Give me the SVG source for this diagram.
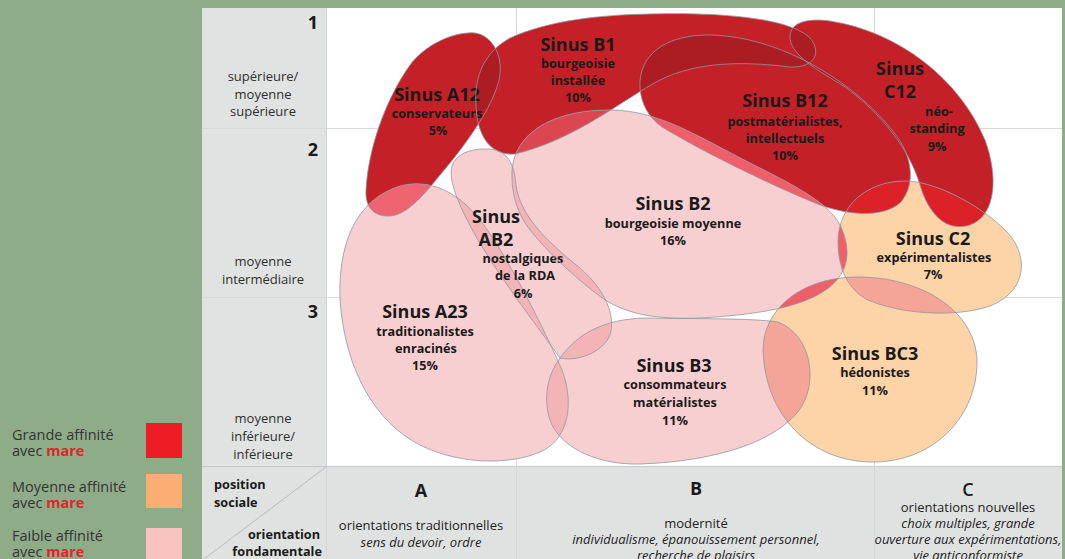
<svg xmlns="http://www.w3.org/2000/svg" width="1065" height="559" viewBox="0 0 1065 559">
<style>
.t{font-family:"Open Sans","Liberation Sans",sans-serif;fill:#1a1a1a;text-anchor:middle}
.h{font-size:18px;font-weight:700}
.s{font-size:12.7px;font-weight:700}
.lc{font-family:"Open Sans","Liberation Sans",sans-serif;font-size:13px;fill:#2e2e2e;text-anchor:middle}
.bt{font-family:"Open Sans","Liberation Sans",sans-serif;font-size:13px;fill:#222;text-anchor:middle}
.it{font-style:italic}
.lg{font-family:"Open Sans","Liberation Sans",sans-serif;font-size:14.5px;fill:#333}
.mare{font-weight:700;fill:#e8202a}
.red{fill:#c42027}
.pink{fill:#f8cfd0}
.orange{fill:#fdd3a8}
.ol{fill:none;stroke:#8f97a1;stroke-width:0.8}
.grid{stroke:#d6d9db;stroke-width:1}
.dk{fill:#ab1c23}
.pp{fill:#f2b4b7}
.rp{fill:#ef5f6a}
.so{fill:#f4a597}
.br{fill:#dc2128}
</style>
<defs>
<path id="pA12" d="M 468 33 C 490 30 505 55 499 80 C 493 105 470 140 440 175 C 420 200 405 215 390 216 C 372 217 365 205 366 190 C 368 150 385 100 410 65 C 425 45 450 34 468 33 Z"/>
<path id="pB1" d="M 476 105 C 474 75 485 52 510 38 C 550 20 600 15 650 14 C 720 12 790 18 810 38 C 822 52 815 68 790 67 C 750 62 700 60 660 80 C 625 98 575 140 515 154 C 492 156 477 138 476 105 Z"/>
<path id="pB12" d="M 640 88 C 638 55 665 36 705 35 C 780 34 860 85 898 138 C 912 158 916 185 900 203 C 882 218 848 216 815 203 C 760 180 700 150 662 127 C 648 117 641 103 640 88 Z"/>
<path id="pC12" d="M 790 36 C 791 22 808 18 830 21 C 900 32 960 80 985 140 C 998 175 997 215 970 225 C 945 233 928 212 920 185 C 910 150 880 112 845 87 C 818 70 789 55 790 36 Z"/>
<path id="pA23" d="M 340 300 C 338 245 355 200 400 186 C 430 178 458 192 480 220 C 505 252 540 320 562 370 C 575 405 568 440 540 452 C 510 465 460 465 420 445 C 375 422 345 370 340 300 Z"/>
<path id="pAB2" d="M 484 149 C 505 148 514 160 516 185 C 520 215 545 240 580 268 C 605 290 616 315 610 335 C 603 352 578 362 560 358 C 540 330 505 285 478 240 C 458 205 448 180 452 166 C 456 154 470 149 484 149 Z"/>
<path id="pB2" d="M 512 178 C 510 135 550 110 610 110 C 660 110 700 138 760 168 C 800 188 830 205 840 225 C 852 250 848 270 833 284 C 812 304 770 314 700 318 C 650 320 625 312 605 300 C 580 282 550 255 530 230 C 518 215 512 195 512 178 Z"/>
<path id="pB3" d="M 560 358 C 578 333 605 319 645 318 C 700 319 750 318 778 322 C 812 335 820 385 797 413 C 767 448 700 462 640 464 C 600 465 565 450 552 425 C 543 405 545 378 560 358 Z"/>
<path id="pC2" d="M 838 242 C 838 205 868 181 905 181 C 935 181 980 205 1005 230 C 1028 252 1030 290 990 306 C 955 318 900 314 868 300 C 848 290 838 268 838 242 Z"/>
<path id="pBC3" d="M 763 350 C 763 310 800 278 855 277 C 920 276 975 310 977 360 C 978 415 935 462 873 462 C 810 462 765 415 763 350 Z"/>
<clipPath id="cA12"><use href="#pA12"/></clipPath>
<clipPath id="cB1"><use href="#pB1"/></clipPath>
<clipPath id="cB12"><use href="#pB12"/></clipPath>
<clipPath id="cC12"><use href="#pC12"/></clipPath>
<clipPath id="cA23"><use href="#pA23"/></clipPath>
<clipPath id="cAB2"><use href="#pAB2"/></clipPath>
<clipPath id="cB2"><use href="#pB2"/></clipPath>
<clipPath id="cB3"><use href="#pB3"/></clipPath>
<clipPath id="cC2"><use href="#pC2"/></clipPath>
<clipPath id="cBC3"><use href="#pBC3"/></clipPath>
</defs>

<rect x="0" y="0" width="1065" height="559" fill="#8fac89"/>
<g id="grid">
<rect x="202" y="8" width="860" height="551" fill="#ffffff"/>
<rect x="202" y="8" width="124" height="458" fill="#e1e3e2"/>
<rect x="202" y="466" width="860" height="93" fill="#e0e2e1"/>
<line class="grid" x1="202" y1="128.5" x2="1062" y2="128.5"/>
<line class="grid" x1="202" y1="297.5" x2="1062" y2="297.5"/>
<line class="grid" x1="516.5" y1="8" x2="516.5" y2="559"/>
<line class="grid" x1="874.5" y1="8" x2="874.5" y2="559"/>
<line x1="326.5" y1="8" x2="326.5" y2="559" stroke="#d2d5d7"/>
<line x1="202" y1="466.5" x2="1062" y2="466.5" stroke="#c6c9cb"/>
<line x1="204" y1="559" x2="326" y2="467" stroke="#aeb3b7" stroke-width="0.8"/>
</g>

<g id="blob-fills">
<use href="#pA12" class="red"/>
<use href="#pB1" class="red"/>
<use href="#pB12" class="red"/>
<use href="#pC12" class="red"/>
<use href="#pA23" class="pink"/>
<use href="#pAB2" class="pink"/>
<use href="#pB2" class="pink"/>
<use href="#pB3" class="pink"/>
<use href="#pC2" class="orange"/>
<use href="#pBC3" class="orange"/>
</g>

<g id="overlaps">
<use href="#pB1" clip-path="url(#cA12)" class="dk"/>
<use href="#pB12" clip-path="url(#cB1)" class="dk"/>
<use href="#pC12" clip-path="url(#cB1)" class="dk"/>
<use href="#pC12" clip-path="url(#cB12)" class="dk"/>
<g clip-path="url(#cB1)"><use href="#pB12" clip-path="url(#cC12)" fill="#8c3b2c"/></g>
<use href="#pA23" clip-path="url(#cA12)" fill="#ee6470"/>
<use href="#pB2" clip-path="url(#cB1)" fill="#dc4651"/>
<use href="#pB2" clip-path="url(#cB12)" class="rp"/>
<use href="#pAB2" clip-path="url(#cA23)" class="pp"/>
<use href="#pAB2" clip-path="url(#cB2)" class="pp"/>
<use href="#pAB2" clip-path="url(#cB3)" class="pp"/>
<use href="#pA23" clip-path="url(#cB3)" class="pp"/>
<use href="#pB2" clip-path="url(#cB3)" class="pp"/>
<use href="#pB2" clip-path="url(#cC2)" class="rp"/>
<use href="#pB2" clip-path="url(#cBC3)" class="rp"/>
<use href="#pB3" clip-path="url(#cBC3)" class="so"/>
<use href="#pC2" clip-path="url(#cBC3)" class="so"/>
<use href="#pC2" clip-path="url(#cB12)" class="br"/>
<use href="#pC2" clip-path="url(#cC12)" class="br"/>
</g>

<g id="sinus-a12">
<use href="#pA12" class="ol"/>
<text class="t h" x="437" y="101">Sinus A12</text>
<text class="t s" x="437" y="118">conservateurs</text>
<text class="t s" x="438" y="135">5%</text>
</g>
<g id="sinus-b1">
<use href="#pB1" class="ol"/>
<text class="t h" x="578" y="51">Sinus B1</text>
<text class="t s" x="578" y="68">bourgeoisie</text>
<text class="t s" x="578" y="85">installée</text>
<text class="t s" x="578" y="102">10%</text>
</g>
<g id="sinus-b12">
<use href="#pB12" class="ol"/>
<text class="t h" x="785" y="107">Sinus B12</text>
<text class="t s" x="785" y="126">postmatérialistes,</text>
<text class="t s" x="785" y="143">intellectuels</text>
<text class="t s" x="785" y="160">10%</text>
</g>
<g id="sinus-c12">
<use href="#pC12" class="ol"/>
<text class="t h" x="900" y="75">Sinus</text>
<text class="t h" x="900" y="98">C12</text>
<text class="t s" x="939" y="116">néo-</text>
<text class="t s" x="937" y="133">standing</text>
<text class="t s" x="937" y="151">9%</text>
</g>
<g id="sinus-a23">
<use href="#pA23" class="ol"/>
<text class="t h" x="425" y="318">Sinus A23</text>
<text class="t s" x="425" y="336">traditionalistes</text>
<text class="t s" x="426" y="353">enracinés</text>
<text class="t s" x="425" y="370">15%</text>
</g>
<g id="sinus-ab2">
<use href="#pAB2" class="ol"/>
<text class="t h" x="496" y="223">Sinus</text>
<text class="t h" x="496" y="246">AB2</text>
<text class="t s" x="523" y="263">nostalgiques</text>
<text class="t s" x="525" y="280">de la RDA</text>
<text class="t s" x="523" y="298">6%</text>
</g>
<g id="sinus-b2">
<use href="#pB2" class="ol"/>
<text class="t h" x="673" y="210">Sinus B2</text>
<text class="t s" x="673" y="228">bourgeoisie moyenne</text>
<text class="t s" x="673" y="245">16%</text>
</g>
<g id="sinus-b3">
<use href="#pB3" class="ol"/>
<text class="t h" x="674" y="372">Sinus B3</text>
<text class="t s" x="675" y="389">consommateurs</text>
<text class="t s" x="675" y="407">matérialistes</text>
<text class="t s" x="675" y="425">11%</text>
</g>
<g id="sinus-c2">
<use href="#pC2" class="ol"/>
<text class="t h" x="933" y="245">Sinus C2</text>
<text class="t s" x="934" y="262">expérimentalistes</text>
<text class="t s" x="933" y="279">7%</text>
</g>
<g id="sinus-bc3">
<use href="#pBC3" class="ol"/>
<text class="t h" x="875" y="360">Sinus BC3</text>
<text class="t s" x="875" y="377">hédonistes</text>
<text class="t s" x="875" y="395">11%</text>
</g>

<g id="row-labels">
<text class="t h" x="318" y="29" style="text-anchor:end">1</text>
<text class="t h" x="318" y="156" style="text-anchor:end">2</text>
<text class="t h" x="318" y="318" style="text-anchor:end">3</text>
<text class="lc" x="263" y="81">supérieure/</text>
<text class="lc" x="263" y="99">moyenne</text>
<text class="lc" x="263" y="116">supérieure</text>
<text class="lc" x="263" y="266">moyenne</text>
<text class="lc" x="263" y="284">intermédiaire</text>
<text class="lc" x="263" y="423">moyenne</text>
<text class="lc" x="263" y="441">inférieure/</text>
<text class="lc" x="263" y="459">inférieure</text>
</g>

<g id="axis-corner">
<text class="t s" x="214" y="489" style="text-anchor:start">position</text>
<text class="t s" x="214" y="507" style="text-anchor:start">sociale</text>
<text class="t s" x="320" y="539" style="text-anchor:end">orientation</text>
<text class="t s" x="322" y="556" style="text-anchor:end">fondamentale</text>
</g>

<g id="col-a">
<text class="t h" x="421" y="497">A</text>
<text class="bt" x="421" y="530">orientations traditionnelles</text>
<text class="bt it" x="421" y="547">sens du devoir, ordre</text>
</g>
<g id="col-b">
<text class="t h" x="696" y="495">B</text>
<text class="bt" x="696" y="528">modernité</text>
<text class="bt it" x="696" y="544">individualisme, épanouissement personnel,</text>
<text class="bt it" x="696" y="560">recherche de plaisirs</text>
</g>
<g id="col-c">
<text class="t h" x="968" y="496" style="font-weight:600">C</text>
<text class="bt" x="968" y="512">orientations nouvelles</text>
<text class="bt it" x="968" y="528">choix multiples, grande</text>
<text class="bt it" x="968" y="544">ouverture aux expérimentations,</text>
<text class="bt it" x="968" y="560">vie anticonformiste</text>
</g>

<g id="legend">
<text class="lg" x="12" y="440">Grande affinité</text>
<text class="lg" x="12" y="456">avec <tspan class="mare">mare</tspan></text>
<rect x="146" y="423" width="36" height="35" fill="#ee1c25"/>
<text class="lg" x="12" y="492">Moyenne affinité</text>
<text class="lg" x="12" y="508">avec <tspan class="mare">mare</tspan></text>
<rect x="146" y="474" width="36" height="34" fill="#fbae72"/>
<text class="lg" x="12" y="541">Faible affinité</text>
<text class="lg" x="12" y="557">avec <tspan class="mare">mare</tspan></text>
<rect x="146" y="528" width="36" height="31" fill="#f9c4c0"/>
</g>
</svg>
